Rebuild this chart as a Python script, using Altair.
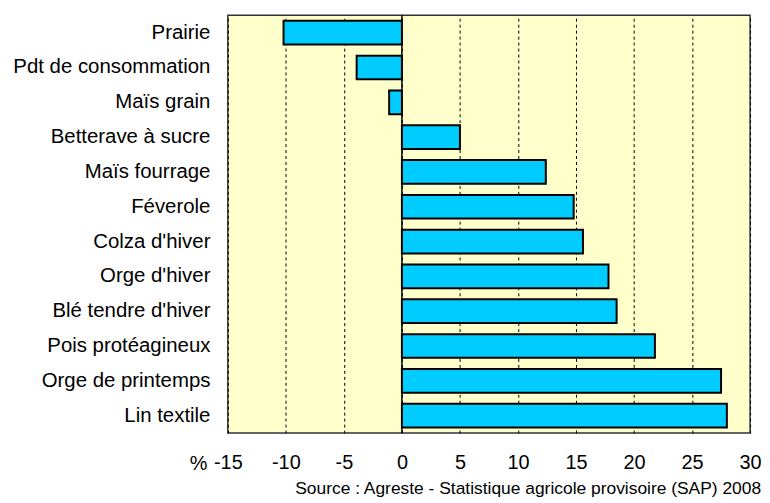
import altair as alt
import pandas as pd

categories = ["Prairie", "Pdt de consommation", "Maïs grain", "Betterave à sucre",
              "Maïs fourrage", "Féverole", "Colza d'hiver", "Orge d'hiver",
              "Blé tendre d'hiver", "Pois protéagineux", "Orge de printemps", "Lin textile"]
values = [-10.2, -3.9, -1.1, 5.0, 12.4, 14.8, 15.6, 17.8, 18.5, 21.8, 27.5, 28.0]
x_ticks = [-15, -10, -5, 0, 5, 10, 15, 20, 25, 30]

df = pd.DataFrame({"culture": categories, "val": values})

FONT = "Liberation Sans"

xscale = alt.Scale(domain=[-15, 30], nice=False, zero=False)

bars = alt.Chart(df).mark_bar(color="#00CCFF", stroke="black", strokeWidth=2).encode(
    x=alt.X("val:Q", scale=xscale,
            axis=alt.Axis(values=x_ticks, title="%", titleX=-21, titleY=31,
                          titleAlign="right", titleBaseline="middle",
                          titleFontWeight="normal",
                          titleFontSize=20, titleFont=FONT, titleColor="black",
                          grid=True, gridDash=[3, 3], gridColor="black",
                          gridWidth=1, ticks=False, domain=False,
                          labelExpr="datum.value + ''", labelFlush=False,
                          labelFontSize=20, labelFont=FONT, labelColor="black",
                          labelPadding=20)),
    y=alt.Y("culture:N", sort=categories,
            scale=alt.Scale(paddingInner=0.32, paddingOuter=0.16),
            axis=alt.Axis(title=None, ticks=False, domain=False, labelLimit=400,
                          labelFontSize=20.5, labelFont=FONT, labelColor="black",
                          labelPadding=18)),
)

zero = alt.Chart(pd.DataFrame({"z": [0]})).mark_rule(color="black", strokeWidth=1.5).encode(
    x=alt.X("z:Q", scale=xscale)
)

chart = alt.layer(zero, bars).properties(
    width=525, height=420,
    padding={"left": 4, "top": 5, "right": 0, "bottom": 0},
    view=alt.ViewBackground(fill="#FFFFCC", stroke="#333333", strokeWidth=1.5),
    title=alt.TitleParams("Source : Agreste - Statistique agricole provisoire (SAP) 2008",
                          orient="bottom", anchor="end", fontSize=17.5, font=FONT,
                          fontWeight="normal", color="black", offset=6),
).configure(background="white")

chart.save("out.html", embed_options={"renderer": "svg", "actions": False})
